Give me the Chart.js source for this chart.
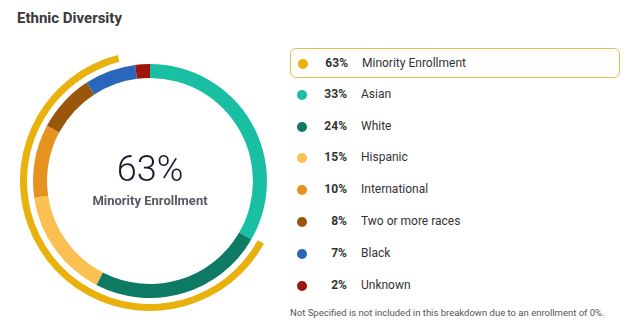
<!DOCTYPE html>
<html>
<head>
<meta charset="utf-8">
<script src="https://cdn.jsdelivr.net/npm/chart.js@4.4.0/dist/chart.umd.min.js"></script>
<style>
  body { margin: 0; background: #fff; font-family: Roboto, "Noto Sans", sans-serif; color: #333; }
  #wrap { position: relative; width: 640px; height: 333px; overflow: hidden; }
  h1 { position: absolute; left: 17px; top: 9px; margin: 0; font-size: 15px; font-weight: 700; color: #383838; }
  #chartbox { position: absolute; left: 20px; top: 51px; width: 260px; height: 260px; }
  #center { position: absolute; left: 20px; top: 51px; width: 260px; height: 260px; text-align: center; pointer-events: none; }
  #center .big { position: absolute; top: 98px; width: 100%; font-size: 36px; font-weight: 300; color: #1e1a2e; line-height: 40px; }
  #center .small { position: absolute; top: 142px; width: 100%; font-size: 13px; font-weight: 700; color: #555a66; }
  .row { position: absolute; left: 290px; width: 330px; height: 30px; box-sizing: border-box; font-size: 12px; }
  .row.hl { border: 1px solid #e2bf55; border-radius: 6px; }
  .dot { position: absolute; left: 7px; top: 10px; width: 10px; height: 10px; border-radius: 50%; }
  .pct { position: absolute; left: 30px; width: 27px; text-align: right; top: 7px; font-weight: 700; color: #333; }
  .lab { position: absolute; left: 71px; top: 7px; color: #333; }
  #note { position: absolute; left: 290px; top: 307px; font-size: 9.5px; color: #555; }
</style>
</head>
<body>
<div id="wrap">
  <h1>Ethnic Diversity</h1>
  <div id="chartbox"><canvas id="donut"></canvas></div>
  <div id="center"><div class="big" id="bigpct"></div><div class="small" id="biglab"></div></div>
  <div id="legend"></div>
  <div id="note">Not Specified is not included in this breakdown due to an enrollment of 0%.</div>
</div>
<script>
// data
const groups = ['Asian', 'White', 'Hispanic', 'International', 'Two or more races', 'Black', 'Unknown'];
const shares = [33, 24, 15, 10, 8, 7, 2];
const colors = ['#19bfa3', '#0e7a63', '#fbbf52', '#e5921f', '#9a560b', '#2b66bd', '#9d160b'];
const minorityLabel = 'Minority Enrollment';
const minorityShare = 63;
const minorityColor = '#e9b10c';

// outer arc starts where Asian ends
const minorityStart = shares[0] / 100 * 360;

document.getElementById('bigpct').textContent = minorityShare + '%';
document.getElementById('biglab').textContent = minorityLabel;

const ctx = document.getElementById('donut').getContext('2d');
const myChart = new Chart(ctx, {
    type: 'doughnut',
    data: {
        labels: groups,
        datasets: [{
            label: minorityLabel,
            data: [minorityShare, 100 - minorityShare],
            backgroundColor: [minorityColor, 'rgba(0,0,0,0)'],
            rotation: minorityStart,
            weight: 7
        }, {
            label: 'gap',
            data: [100],
            backgroundColor: ['rgba(0,0,0,0)'],
            weight: 6
        }, {
            label: 'Ethnic Diversity',
            data: shares,
            backgroundColor: colors,
            weight: 14
        }]
    },
    options: {
        responsive: true,
        maintainAspectRatio: false,
        animation: false,
        cutout: '79.2%',
        borderWidth: 0,
        hoverOffset: 0,
        layout: { padding: 0 },
        elements: { arc: { borderWidth: 0 } },
        plugins: {
            legend: { display: false },
            tooltip: { enabled: false }
        }
    }
});

// legend rows
const legend = document.getElementById('legend');
const rows = [[minorityShare, minorityLabel, minorityColor]].concat(groups.map((g, i) => [shares[i], g, colors[i]]));
rows.forEach((r, i) => {
    const d = document.createElement('div');
    d.className = 'row' + (i === 0 ? ' hl' : '');
    d.style.top = (48 + i * 31.8) + 'px';
    d.innerHTML = '<span class="dot" style="background:' + r[2] + '"></span>' +
        '<span class="pct">' + r[0] + '%</span><span class="lab">' + r[1] + '</span>';
    legend.appendChild(d);
});
</script>
</body>
</html>
